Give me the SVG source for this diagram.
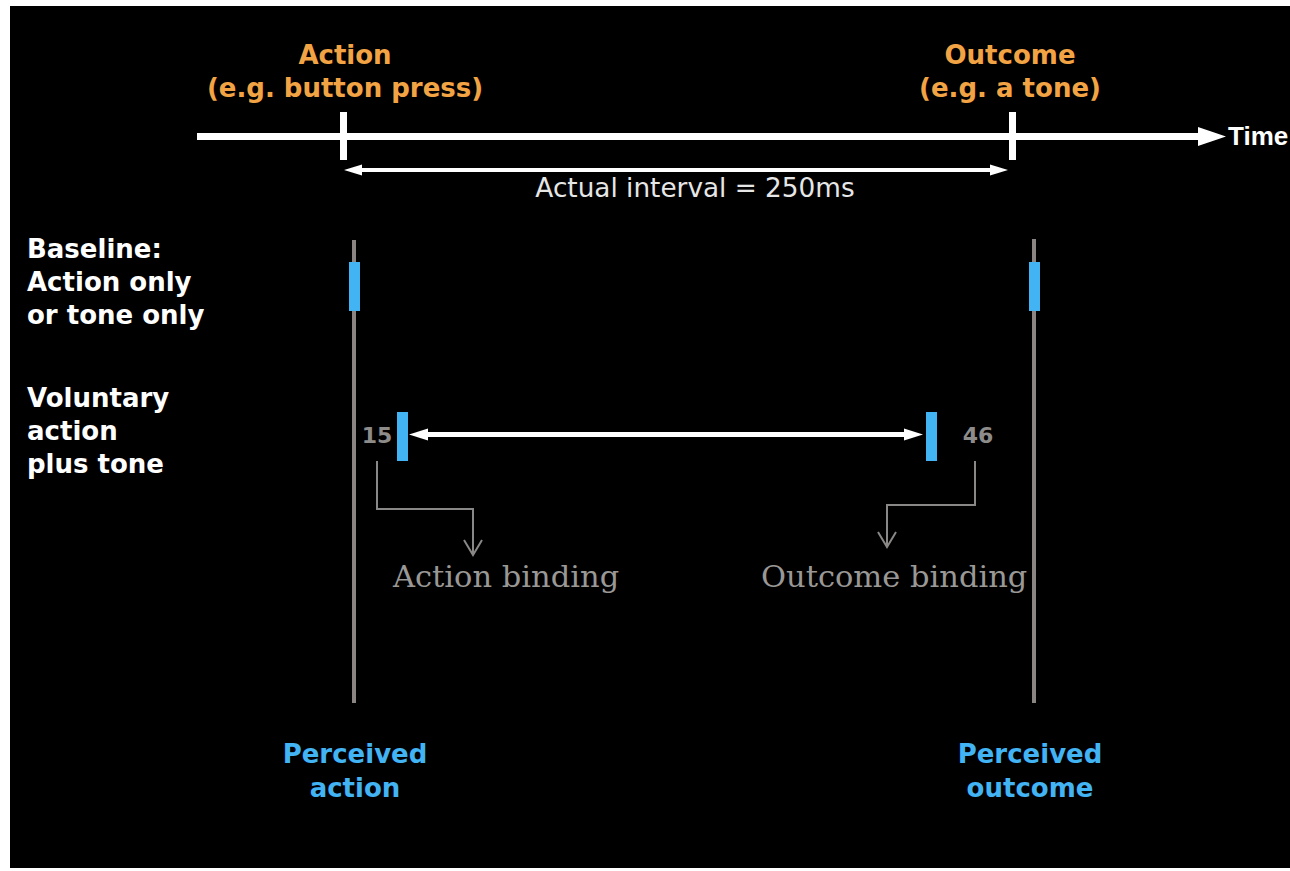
<svg xmlns="http://www.w3.org/2000/svg" width="1290" height="871" viewBox="0 0 1290 871">
<style>
.lbl{font-family:"DejaVu Sans",Verdana,sans-serif;font-weight:bold;font-size:26px}
.or{fill:#F2A444}
.wh{fill:#ffffff}
.bl{fill:#42B3F3}
.num{font-family:"DejaVu Sans",Verdana,sans-serif;font-weight:bold;font-size:22px;fill:#8e8c8a}
.ser{font-family:"DejaVu Serif",Georgia,serif;font-size:30.5px;fill:#9a9896}
.vline{stroke:#8a8583;stroke-width:4}
.bar{fill:#42B3F3}
.conn{fill:none;stroke:#8a8886;stroke-width:2}
</style>
<rect x="0" y="0" width="1290" height="871" fill="#ffffff"/>
<rect x="10" y="6" width="1280" height="862" fill="#000000"/>

<g id="time-axis">
<rect x="197" y="133" width="1003" height="7" fill="#ffffff"/>
<polygon points="1198,127 1226,136.5 1198,146" fill="#ffffff"/>
<rect x="340" y="112" width="7" height="48" fill="#ffffff"/>
<rect x="1009" y="112" width="7" height="48" fill="#ffffff"/>
<text x="1228" y="145" font-family="Liberation Sans,Arial,sans-serif" font-weight="bold" font-size="26" fill="#ffffff">Time</text>
</g>

<g id="action-label">
<text class="lbl or" x="345" y="64" text-anchor="middle">Action</text>
<text class="lbl or" x="345" y="97" text-anchor="middle">(e.g. button press)</text>
</g>
<g id="outcome-label">
<text class="lbl or" x="1010" y="64" text-anchor="middle">Outcome</text>
<text class="lbl or" x="1010" y="97" text-anchor="middle">(e.g. a tone)</text>
</g>

<g id="interval">
<rect x="360" y="168" width="632" height="4" fill="#ffffff"/>
<polygon points="344,170 362,164.5 362,175.5" fill="#ffffff"/>
<polygon points="1008,170 990,164.5 990,175.5" fill="#ffffff"/>
<text x="695" y="197" text-anchor="middle" font-family="DejaVu Sans,Verdana,sans-serif" font-size="26.3" fill="#e6e6e6">Actual interval = 250ms</text>
</g>

<g id="row-labels">
<text class="lbl wh" x="27" y="258">Baseline:</text>
<text class="lbl wh" x="27" y="291">Action only</text>
<text class="lbl wh" x="27" y="324">or tone only</text>
<text class="lbl wh" x="27" y="407">Voluntary</text>
<text class="lbl wh" x="27" y="440">action</text>
<text class="lbl wh" x="27" y="473">plus tone</text>
</g>

<g id="perceived-action-line">
<line class="vline" x1="354" y1="240" x2="354" y2="703"/>
<rect class="bar" x="349" y="262" width="11" height="49"/>
</g>
<g id="perceived-outcome-line">
<line class="vline" x1="1034" y1="239" x2="1034" y2="703"/>
<rect class="bar" x="1029" y="262" width="11" height="49"/>
</g>

<g id="voluntary-row">
<rect class="bar" x="397" y="412" width="11" height="49"/>
<rect class="bar" x="926" y="412" width="11" height="49"/>
<rect x="426" y="432" width="480" height="5" fill="#ffffff"/>
<polygon points="409,434.5 428,428.5 428,440.5" fill="#ffffff"/>
<polygon points="923,434.5 904,428.5 904,440.5" fill="#ffffff"/>
<text class="num" x="377" y="443" text-anchor="middle">15</text>
<text class="num" x="978" y="443" text-anchor="middle">46</text>
</g>

<g id="connectors">
<polyline class="conn" points="377,461 377,509 473,509 473,554"/>
<polyline class="conn" points="464,540 473,555 482,540"/>
<polyline class="conn" points="975,461 975,505 887,505 887,546"/>
<polyline class="conn" points="878,532 887,547 896,532"/>
</g>

<g id="binding-labels">
<text class="ser" x="393" y="587">Action binding</text>
<text class="ser" x="761" y="587">Outcome binding</text>
</g>

<g id="perceived-labels">
<text class="lbl bl" x="355" y="763" text-anchor="middle">Perceived</text>
<text class="lbl bl" x="355" y="797" text-anchor="middle">action</text>
<text class="lbl bl" x="1030" y="763" text-anchor="middle">Perceived</text>
<text class="lbl bl" x="1030" y="797" text-anchor="middle">outcome</text>
</g>
</svg>
